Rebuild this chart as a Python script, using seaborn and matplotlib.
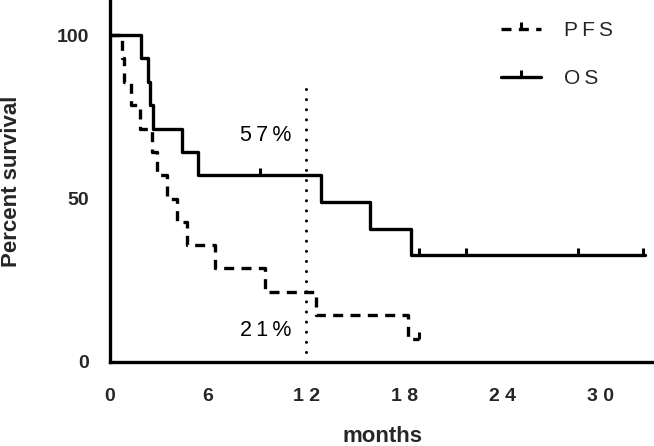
import matplotlib
matplotlib.use("Agg")
import matplotlib.pyplot as plt
from matplotlib.lines import Line2D
import seaborn as sns

# ---- data ----
os_time = [0, 1.9, 2.35, 2.45, 2.65, 4.4, 5.4, 12.9, 15.9, 18.4, 32.7]
os_surv = [100, 92.9, 85.7, 78.6, 71.4, 64.3, 57.1, 49.0, 40.8, 32.7, 32.7]
os_cens_time = [9.2, 18.9, 21.8, 28.6, 32.6]
os_cens_surv = [57.1, 32.7, 32.7, 32.7, 32.7]

pfs_time = [0, 0.72, 0.88, 1.3, 1.84, 2.55, 2.85, 3.47, 4.08, 4.7, 6.4, 9.5, 12.6, 18.2, 18.9]
pfs_surv = [100, 92.9, 85.7, 78.6, 71.4, 64.3, 57.1, 50.0, 42.9, 35.7, 28.6, 21.4, 14.3, 7.1, 7.1]
pfs_cens_time = [18.9]
pfs_cens_surv = [7.1]

landmark_month = 12
landmark_span = [3, 86]
labels = ["PFS", "OS"]
annotations = ["57%", "21%"]
annot_pos = [(9.5, 69.4), (9.5, 9.5)]
xticks = [0, 6, 12, 18, 24, 30]
yticks = [0, 50, 100]

TS = "\u2009"
def spaced(s, sep=TS):
    return sep.join(list(s))

sns.set_style("white")
plt.rcParams['font.family'] = ['Liberation Sans', 'DejaVu Sans']

fig = plt.figure(figsize=(6.54, 4.46), dpi=100)
ax = fig.add_axes([110/654, 84/446, 544/654, 362/446])

LW = 2.4
dash = (0, (3, 2.2))
mk = dict(marker=2, markersize=5, markeredgewidth=2.2,
          markeredgecolor="black", markerfacecolor="black")

sns.lineplot(x=os_time, y=os_surv, drawstyle="steps-post", color="black",
             linewidth=LW, estimator=None, sort=False, ax=ax)
sns.lineplot(x=pfs_time, y=pfs_surv, drawstyle="steps-post", color="black",
             linewidth=LW, linestyle=dash, estimator=None, sort=False, ax=ax)
sns.lineplot(x=os_cens_time, y=os_cens_surv, color="black", linestyle="",
             estimator=None, sort=False, ax=ax, **mk)
sns.lineplot(x=pfs_cens_time, y=pfs_cens_surv, color="black", linestyle="",
             estimator=None, sort=False, ax=ax, **mk)
sns.lineplot(x=[landmark_month, landmark_month], y=landmark_span, color="black",
             linewidth=2.2, linestyle=(0, (0.01, 3.3)), dash_capstyle="round",
             estimator=None, sort=False, ax=ax)

for txt, (tx, ty) in zip(annotations, annot_pos):
    ax.text(tx, ty, spaced(txt), ha="center", va="center", fontsize=15.5, color="black")

ax.set_xlim(0, 544/16.35)
ax.set_ylim(0, 362/3.27)
ax.set_xticks(xticks)
ax.set_xticklabels([spaced(str(t), " ") for t in xticks], fontweight="bold", fontsize=14)
ax.set_yticks(yticks)
ax.set_yticklabels([str(t) for t in yticks], fontweight="bold", fontsize=14)
ax.tick_params(axis="both", direction="out", length=7, width=2.2, color="black")
ax.tick_params(axis="y", pad=8)
ax.tick_params(axis="x", pad=12)

for side in ["top", "right"]:
    ax.spines[side].set_visible(False)
for side in ["left", "bottom"]:
    ax.spines[side].set_linewidth(LW)
    ax.spines[side].set_color("black")

ax.set_xlabel("months", fontweight="bold", fontsize=16)
ax.set_ylabel("Percent survival", fontweight="bold", fontsize=16)
ax.xaxis.set_label_coords(0.5, -(437-362)/362)
ax.yaxis.set_label_coords(-(110-12)/544, 0.5)
ax.xaxis.label.set_va("center")
ax.yaxis.label.set_va("center")

handles = [
    Line2D([], [], color="black", linewidth=LW, linestyle=dash, **mk),
    Line2D([], [], color="black", linewidth=LW, **mk),
]
ax.legend(handles, [spaced(l) for l in labels], loc="upper left",
          bbox_to_anchor=(501/654, 1 - 21/446), bbox_transform=fig.transFigure,
          frameon=False, borderpad=0, borderaxespad=0, handlelength=1.9,
          handletextpad=1.1, labelspacing=1.4, fontsize=15, numpoints=1)

fig.savefig("out.png", dpi=100)
